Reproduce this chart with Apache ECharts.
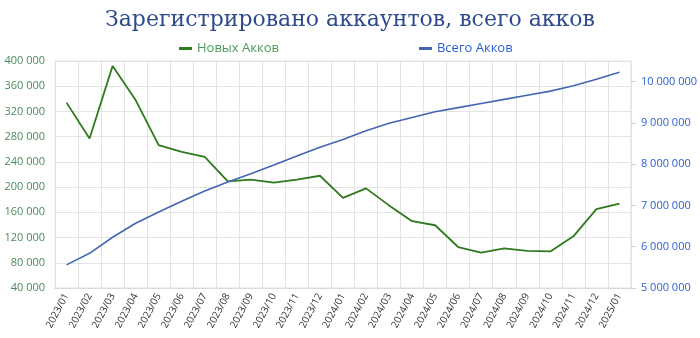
<!DOCTYPE html>
<html>
<head>
<meta charset="utf-8">
<script src="https://cdn.jsdelivr.net/npm/echarts@6/dist/echarts.min.js"></script>
<style>html,body{margin:0;padding:0;background:#fff}#c{width:700px;height:338px}</style>
</head>
<body>
<div id="c"></div>
<script>
const categories = ['2023/01','2023/02','2023/03','2023/04','2023/05','2023/06','2023/07','2023/08','2023/09','2023/10','2023/11','2023/12','2024/01','2024/02','2024/03','2024/04','2024/05','2024/06','2024/07','2024/08','2024/09','2024/10','2024/11','2024/12','2025/01'];
const newAccounts = [334000,277000,392000,338000,266500,256000,248000,209000,212000,207000,212000,218000,183000,198000,171000,146000,139500,105000,96000,103000,99000,98000,122000,165000,174000];
const totalAccounts = [5560000,5840000,6230000,6570000,6840000,7100000,7350000,7570000,7770000,7980000,8200000,8410000,8600000,8810000,8990000,9130000,9270000,9370000,9470000,9570000,9670000,9770000,9900000,10060000,10230000];
const seriesNames = ['Новых Акков','Всего Акков'];
const titleText = 'Зарегистрировано аккаунтов, всего акков';

const fmt = v => String(v).replace(/\B(?=(\d{3})+(?!\d))/g, '\u00a0');
const chart = echarts.init(document.getElementById('c'), null, {renderer:'canvas'});
chart.setOption({
  animation: false,
  backgroundColor: '#fff',
  title: {
    text: titleText, left: 'center', top: 4,
    textStyle: {fontFamily: 'DejaVu Serif', fontWeight: 'normal', fontSize: 22, color: '#2f4b8c'}
  },
  legend: {
    top: 37, left: 174, itemGap: 140, itemWidth: 13, itemHeight: 3, icon: 'rect',
    textStyle: {fontFamily: 'Open Sans', fontSize: 13},
    data: [
      {name: seriesNames[0], textStyle: {color: '#4a9a58'}},
      {name: seriesNames[1], textStyle: {color: '#2b5fd0'}}
    ]
  },
  grid: {left: 55, right: 66, top: 61, bottom: 50, show: true, borderColor: '#e0e0e0', borderWidth: 1},
  xAxis: {
    type: 'category', data: categories, boundaryGap: true,
    axisLine: {show: true, lineStyle: {color: '#d9d9d9'}},
    axisTick: {show: false},
    splitLine: {show: true, lineStyle: {color: '#e3e3e3'}},
    axisLabel: {rotate: 62, interval: 0, fontFamily: 'Open Sans', fontSize: 10, color: '#333', margin: 6}
  },
  yAxis: [
    {
      type: 'value', min: 40000, max: 400000, interval: 40000, position: 'left',
      axisLine: {show: false}, axisTick: {show: false},
      splitLine: {show: true, lineStyle: {color: '#e3e3e3'}},
      axisLabel: {formatter: fmt, fontFamily: 'Open Sans', fontSize: 11, color: '#4a8a5c', margin: 10}
    },
    {
      type: 'value', min: 5000000, max: 10500000, interval: 1000000, position: 'right',
      axisLine: {show: false},
      axisTick: {show: true, inside: false, length: 5, lineStyle: {color: '#d0d0d0'}},
      splitLine: {show: false},
      axisLabel: {formatter: fmt, showMaxLabel: false, fontFamily: 'Open Sans', fontSize: 11, color: '#2b5fd0', margin: 10}
    }
  ],
  series: [
    {name: seriesNames[0], type: 'line', yAxisIndex: 0, data: newAccounts, symbol: 'none',
     lineStyle: {color: '#2f7a1f', width: 1.8}, itemStyle: {color: '#2f7a1f'}},
    {name: seriesNames[1], type: 'line', yAxisIndex: 1, data: totalAccounts, symbol: 'none',
     lineStyle: {color: '#4466b0', width: 1.6}, itemStyle: {color: '#4466b0'}}
  ]
});
</script>
</body>
</html>
